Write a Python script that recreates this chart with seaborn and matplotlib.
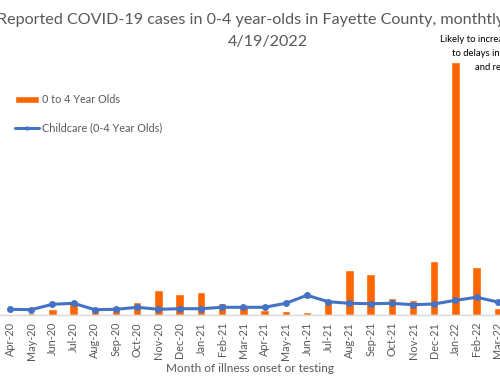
import matplotlib
matplotlib.use("Agg")
import matplotlib.pyplot as plt
import seaborn as sns
import numpy as np
import pandas as pd

months = ["Apr-20", "May-20", "Jun-20", "Jul-20", "Aug-20", "Sep-20", "Oct-20", "Nov-20",
          "Dec-20", "Jan-21", "Feb-21", "Mar-21", "Apr-21", "May-21", "Jun-21", "Jul-21",
          "Aug-21", "Sep-21", "Oct-21", "Nov-21", "Dec-21", "Jan-22", "Feb-22", "Mar-22"]
cases_0_4 = [1.5, 2.5, 6, 14, 8, 9, 13, 25, 21, 23, 12, 10,
             5, 4, 3, 15, 45, 41, 17, 15, 54, 253, 48, 7]
childcare = [5.7, 5.3, 10.7, 11.7, 5.3, 5.7, 7.7, 5.7, 6.3, 6.3, 7.7, 7.7,
             7.7, 11.7, 19.7, 13.3, 11.7, 11.3, 11.7, 10.3, 11, 14.7, 17.7, 13]

sns.set_style("white")
plt.rcParams["font.family"] = ["Lato", "DejaVu Sans"]

W, H = 500, 379
fig = plt.figure(figsize=(W / 100, H / 100), dpi=100)
ax = fig.add_axes([0, 64 / H, 1, 315 / H])

df = pd.DataFrame({"month": months, "cases": cases_0_4, "childcare": childcare,
                   "pos": np.arange(len(months))})

sns.barplot(data=df, x="month", y="cases", color="#FF6600", saturation=1,
            width=0.4, ax=ax, label="0 to 4 Year Olds")
sns.lineplot(data=df, x="pos", y="childcare", color="#4472C4", linewidth=2.2,
             marker="o", markersize=5, markeredgewidth=0, ax=ax,
             label="Childcare (0-4 Year Olds)")

ax.set_xlim(-0.47, 23.1)
ax.set_ylim(0, 315)
ax.set_xticks(np.arange(len(months)))
ax.set_xticklabels(months, rotation=90, fontsize=7.8, color="#595959")
ax.tick_params(axis="x", length=0, pad=5)
ax.set_yticks([])
ax.set_ylabel("")
ax.set_xlabel("Month of illness onset or testing", fontsize=8.5, color="#595959", labelpad=2)
for s in ["top", "left", "right"]:
    ax.spines[s].set_visible(False)
ax.spines["bottom"].set_color("#D9D9D9")
ax.spines["bottom"].set_linewidth(1)

handles, labels = ax.get_legend_handles_labels()
order = [labels.index("0 to 4 Year Olds"), labels.index("Childcare (0-4 Year Olds)")]
leg = ax.legend([handles[i] for i in order], [labels[i] for i in order],
                loc="upper left", bbox_to_anchor=(0.022, 1 - 90 / 315), frameon=False,
                fontsize=7.8, labelcolor="#595959", handlelength=2.2, handleheight=0.5,
                handletextpad=0.3, labelspacing=1.6, borderaxespad=0, markerscale=0.6)

fig.text(-0.006, 1 - 20 / H, "Reported COVID-19 cases in 0-4 year-olds in Fayette County, monthtly",
         ha="left", va="center", fontsize=11.6, color="#595959")
fig.text(268 / W, 1 - 42 / H, "4/19/2022", ha="center", va="center", fontsize=11.6, color="#595959")
fig.text(440 / W, 1 - 40 / H, "Likely to increase due", ha="left", va="center", fontsize=6.8, color="black")
fig.text(452 / W, 1 - 53 / H, "to delays in reporting", ha="left", va="center", fontsize=6.8, color="black")
fig.text(475 / W, 1 - 67 / H, "and reporting", ha="left", va="center", fontsize=6.8, color="black")

fig.savefig("out.png", dpi=100)
